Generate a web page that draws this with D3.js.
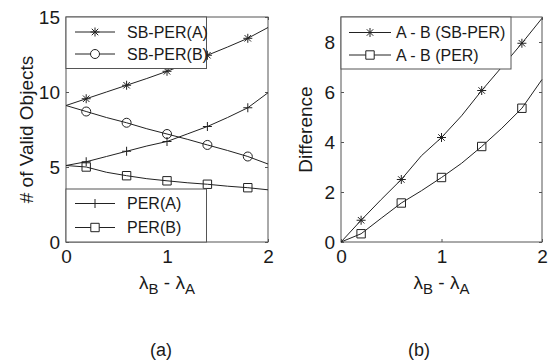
<!DOCTYPE html>
<html>
<head>
<meta charset="utf-8">
<script src="https://cdn.jsdelivr.net/npm/d3@7"></script>
<style>
  body { margin: 0; background: #fff; }
  svg { display: block; }
  text { font-family: "Liberation Sans", Arial, sans-serif; fill: #1a1a1a; }
</style>
</head>
<body>
<svg id="chart" width="550" height="363"></svg>
<script>
'use strict';

// x values of every sample, markers sit on every other one
var lambdaDiff = [0, 0.2, 0.4, 0.6, 0.8, 1.0, 1.2, 1.4, 1.6, 1.8, 2.0];
var markerIdx = [1, 3, 5, 7, 9];

// panel (a): # of valid objects
var sbPerA = [9.1, 9.55, 10.0, 10.45, 10.9, 11.38, 11.9, 12.45, 13.0, 13.58, 14.3];
var sbPerB = [9.1, 8.7, 8.3, 7.95, 7.55, 7.2, 6.85, 6.47, 6.1, 5.7, 5.2];
var perA = [5.1, 5.35, 5.7, 6.05, 6.4, 6.7, 7.2, 7.7, 8.3, 8.95, 9.95];
var perB = [5.1, 5.0, 4.65, 4.42, 4.22, 4.08, 3.95, 3.85, 3.72, 3.62, 3.48];

// panel (b): difference A - B
var diffSbPer = [0, 0.87, 1.7, 2.5, 3.45, 4.18, 5.05, 6.06, 7.0, 7.95, 8.95];
var diffPer = [0, 0.33, 0.95, 1.56, 2.05, 2.58, 3.15, 3.82, 4.55, 5.35, 6.5];

var xTicks = [0, 1, 2];
var yTicksA = [0, 5, 10, 15];
var yTicksB = [0, 2, 4, 6, 8];

var svg = d3.select("#chart");
var LINE = "#222";
var FRAME = "#555";

function markerPath(kind, r) {
  var p = d3.path();
  if (kind === "star") {
    var d = r * 0.72;
    p.moveTo(-r, 0); p.lineTo(r, 0);
    p.moveTo(0, -r); p.lineTo(0, r);
    p.moveTo(-d, -d); p.lineTo(d, d);
    p.moveTo(-d, d); p.lineTo(d, -d);
  } else if (kind === "plus") {
    p.moveTo(-r, 0); p.lineTo(r, 0);
    p.moveTo(0, -r); p.lineTo(0, r);
  } else if (kind === "circle") {
    p.moveTo(r, 0); p.arc(0, 0, r, 0, 2 * Math.PI);
  } else if (kind === "square") {
    p.rect(-r, -r, 2 * r, 2 * r);
  }
  return p.toString();
}

var markerSize = {star: 4.5, plus: 4.5, circle: 4.5, square: 4.2};

function drawPanel(opt) {
  var x = d3.scaleLinear().domain([0, 2]).range([opt.left, opt.right]);
  var y = d3.scaleLinear().domain(opt.yDomain).range([242, 17]);
  var g = svg.append("g");

  // frame
  g.append("rect")
    .attr("x", x(0)).attr("y", y(opt.yDomain[1]))
    .attr("width", x(2) - x(0)).attr("height", y(0) - y(opt.yDomain[1]))
    .attr("fill", "none").attr("stroke", FRAME).attr("stroke-width", 1);

  // inward ticks on all four sides
  var tl = 3;
  g.append("g").attr("transform", "translate(0," + y(0) + ")")
    .call(d3.axisBottom(x).tickValues(xTicks).tickSize(-tl).tickPadding(8).tickFormat(d3.format("d")));
  g.append("g").attr("transform", "translate(0," + y(opt.yDomain[1]) + ")")
    .call(d3.axisTop(x).tickValues(xTicks).tickSize(-tl).tickFormat(""));
  g.append("g").attr("transform", "translate(" + x(0) + ",0)")
    .call(d3.axisLeft(y).tickValues(opt.yTicks).tickSize(-tl).tickPadding(6).tickFormat(d3.format("d")));
  g.append("g").attr("transform", "translate(" + x(2) + ",0)")
    .call(d3.axisRight(y).tickValues(opt.yTicks).tickSize(-tl).tickFormat(""));
  g.selectAll(".domain").remove();
  g.selectAll(".tick line").attr("stroke", FRAME);
  g.selectAll(".tick text").style("font-size", "19px").attr("fill", "#1a1a1a")
    .style("font-family", '"Liberation Sans", Arial, sans-serif');

  var line = d3.line().x(function(d) { return x(d[0]); }).y(function(d) { return y(d[1]); });

  opt.series.forEach(function(s) {
    var pts = lambdaDiff.map(function(v, i) { return [v, s.values[i]]; });
    g.append("path").attr("d", line(pts))
      .attr("fill", "none").attr("stroke", LINE).attr("stroke-width", 1);
    g.selectAll(null).data(markerIdx.map(function(i) { return pts[i]; })).enter()
      .append("path")
      .attr("transform", function(d) { return "translate(" + x(d[0]) + "," + y(d[1]) + ")"; })
      .attr("d", markerPath(s.marker, markerSize[s.marker]))
      .attr("fill", "none").attr("stroke", LINE).attr("stroke-width", 1);
  });

  // legends on top
  opt.legends.forEach(function(lg) {
    var lgG = g.append("g");
    lgG.append("rect")
      .attr("x", lg.x0).attr("y", lg.y0)
      .attr("width", lg.x1 - lg.x0).attr("height", lg.y1 - lg.y0)
      .attr("fill", "#fff").attr("stroke", FRAME).attr("stroke-width", 1);
    lg.items.forEach(function(it, k) {
      var yy = lg.rows[k];
      lgG.append("line")
        .attr("x1", lg.lineX[0]).attr("x2", lg.lineX[1])
        .attr("y1", yy).attr("y2", yy)
        .attr("stroke", LINE).attr("stroke-width", 1);
      lgG.append("path")
        .attr("transform", "translate(" + ((lg.lineX[0] + lg.lineX[1]) / 2) + "," + yy + ")")
        .attr("d", markerPath(it.marker, markerSize[it.marker]))
        .attr("fill", "#fff").attr("stroke", LINE).attr("stroke-width", 1);
      lgG.append("text")
        .attr("x", lg.textX).attr("y", yy).attr("dy", "0.36em")
        .style("font-size", "16px")
        .text(it.label);
    });
  });

  // y label
  svg.append("text")
    .attr("transform", "translate(" + opt.yLabelX + "," + ((y(0) + y(opt.yDomain[1])) / 2) + ") rotate(-90)")
    .attr("text-anchor", "middle")
    .style("font-size", "19px")
    .text(opt.yLabel);

  // x label with subscripts
  var xl = svg.append("text")
    .attr("x", (x(0) + x(2)) / 2).attr("y", 289)
    .attr("text-anchor", "middle")
    .style("font-size", "19px");
  xl.append("tspan").text("\u03bb");
  xl.append("tspan").attr("dy", 5).style("font-size", "15px").text("B");
  xl.append("tspan").attr("dy", -5).text(" - \u03bb");
  xl.append("tspan").attr("dy", 5).style("font-size", "15px").text("A");

  // panel caption
  svg.append("text")
    .attr("x", opt.captionX).attr("y", 356)
    .attr("text-anchor", "middle")
    .style("font-size", "18px")
    .text(opt.caption);
}

drawPanel({
  left: 66, right: 268,
  yDomain: [0, 15], yTicks: yTicksA,
  yLabel: "# of Valid Objects", yLabelX: 33,
  caption: "(a)", captionX: 161,
  series: [
    {values: sbPerA, marker: "star"},
    {values: sbPerB, marker: "circle"},
    {values: perA, marker: "plus"},
    {values: perB, marker: "square"}
  ],
  legends: [
    {x0: 66, y0: 17, x1: 206.5, y1: 68.5, lineX: [75, 115], textX: 127, rows: [32, 54],
     items: [{label: "SB-PER(A)", marker: "star"}, {label: "SB-PER(B)", marker: "circle"}]},
    {x0: 66, y0: 189, x1: 206.5, y1: 242, lineX: [75, 115], textX: 127, rows: [203.5, 227.5],
     items: [{label: "PER(A)", marker: "plus"}, {label: "PER(B)", marker: "square"}]}
  ]
});

drawPanel({
  left: 341, right: 542,
  yDomain: [0, 9], yTicks: yTicksB,
  yLabel: "Difference", yLabelX: 312,
  caption: "(b)", captionX: 419,
  series: [
    {values: diffSbPer, marker: "star"},
    {values: diffPer, marker: "square"}
  ],
  legends: [
    {x0: 341, y0: 17, x1: 511, y1: 69, lineX: [349, 391], textX: 396, rows: [32.5, 55],
     items: [{label: "A - B (SB-PER)", marker: "star"}, {label: "A - B (PER)", marker: "square"}]}
  ]
});
</script>
</body>
</html>
